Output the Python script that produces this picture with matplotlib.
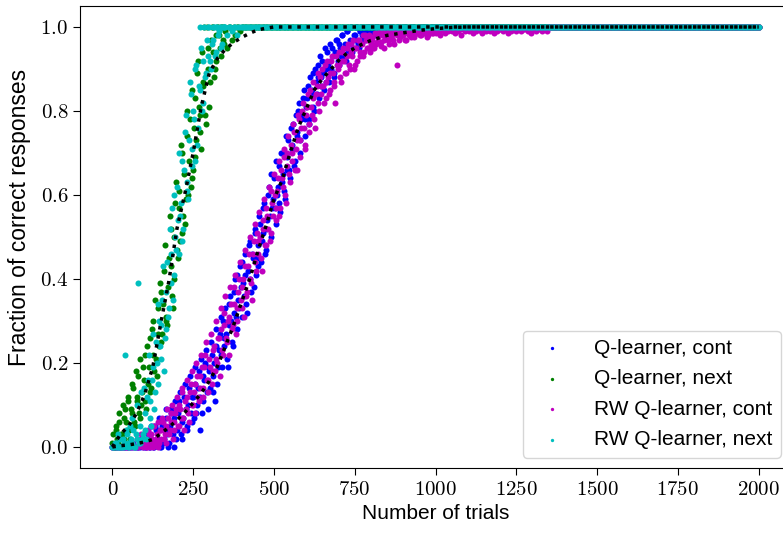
import numpy as np
import matplotlib
matplotlib.use("Agg")
import matplotlib.pyplot as plt
from matplotlib.ticker import FuncFormatter

plt.rcParams['font.family'] = ['Liberation Sans', 'DejaVu Sans']
plt.rcParams['mathtext.fontset'] = 'cm'

# ---------------- data ----------------
step = 5          # trial spacing of the scatter samples
n_trials = 2000   # last trial shown

# Q-learner, next (green) : trials 0,5,..,400
q_next = [0.01, 0.00, 0.04, 0.02, 0.06, 0.00, 0.03, 0.07, 0.09, 0.04,
          0.11, 0.02, 0.08, 0.14, 0.05, 0.12, 0.17, 0.07, 0.10, 0.19,
          0.22, 0.09, 0.15, 0.26, 0.14, 0.30, 0.18, 0.21, 0.33, 0.24,
          0.37, 0.27, 0.42, 0.31, 0.29, 0.45, 0.52, 0.36, 0.40, 0.58,
          0.47, 0.61, 0.49, 0.70, 0.55, 0.53, 0.74, 0.60, 0.78, 0.64,
          0.66, 0.83, 0.73, 0.92, 0.79, 0.71, 0.87, 1.00, 0.77, 0.95,
          0.81, 0.97, 1.00, 0.88, 0.92, 1.00, 0.98, 0.93, 1.00, 0.96,
          0.99, 0.95, 1.00, 1.00, 0.97, 1.00, 0.98, 1.00, 1.00, 0.99,
          1.00]
# Q-learner, next (green) : trials 2,7,..,347
q_next_b = [0.03, 0.00, 0.05, 0.01, 0.08, 0.03, 0.10, 0.02, 0.06, 0.12,
            0.04, 0.09, 0.15, 0.06, 0.18, 0.11, 0.08, 0.21, 0.13, 0.16,
            0.11, 0.24, 0.19, 0.13, 0.28, 0.22, 0.35, 0.17, 0.27, 0.39,
            0.25, 0.34, 0.48, 0.30, 0.38, 0.55, 0.43, 0.33, 0.50, 0.63,
            0.45, 0.57, 0.72, 0.51, 0.65, 0.59, 0.80, 0.68, 0.62, 0.85,
            0.76, 0.69, 0.89, 0.81, 0.75, 0.94, 0.86, 0.79, 1.00, 0.90,
            0.87, 1.00, 0.94, 0.90, 0.98, 1.00, 0.95, 1.00, 0.97, 1.00]

# RW Q-learner, next (cyan) : trials 0,5,..,400
rw_next = [0.00, 0.00, 0.01, 0.00, 0.00, 0.02, 0.00, 0.01, 0.22, 0.03,
           0.00, 0.05, 0.01, 0.04, 0.00, 0.02, 0.39, 0.01, 0.13, 0.03,
           0.08, 0.02, 0.16, 0.11, 0.05, 0.19, 0.09, 0.25, 0.15, 0.30,
           0.21, 0.35, 0.18, 0.28, 0.44, 0.33, 0.39, 0.57, 0.41, 0.50,
           0.62, 0.46, 0.55, 0.68, 0.52, 0.75, 0.63, 0.59, 0.87, 0.71,
           0.80, 0.68, 0.91, 0.76, 0.85, 0.95, 0.82, 1.00, 0.89, 0.93,
           1.00, 0.90, 0.97, 1.00, 0.94, 1.00, 0.99, 1.00, 0.96, 1.00,
           1.00, 0.98, 1.00, 1.00, 0.99, 1.00, 1.00, 0.98, 1.00, 1.00,
           1.00]
# RW Q-learner, next (cyan) : trials 2,7,..,347
rw_next_b = [0.00, 0.01, 0.00, 0.03, 0.00, 0.00, 0.02, 0.00, 0.04, 0.01,
             0.00, 0.02, 0.07, 0.00, 0.03, 0.10, 0.01, 0.05, 0.02, 0.14,
             0.04, 0.12, 0.22, 0.07, 0.16, 0.27, 0.13, 0.20, 0.34, 0.24,
             0.29, 0.43, 0.26, 0.37, 0.31, 0.52, 0.46, 0.35, 0.60, 0.47,
             0.54, 0.70, 0.58, 0.49, 0.66, 0.79, 0.61, 0.73, 0.84, 0.67,
             0.78, 0.90, 0.72, 0.86, 1.00, 0.80, 0.92, 0.88, 0.97, 1.00,
             0.92, 0.96, 1.00, 0.93, 1.00, 0.98, 1.00, 0.95, 1.00, 1.00]

# Q-learner, cont (blue) : trials 0,5,..,995
q_cont = [0.00, 0.00, 0.00, 0.00, 0.00, 0.00, 0.00, 0.00, 0.00, 0.00,
          0.00, 0.00, 0.00, 0.01, 0.00, 0.00, 0.00, 0.00, 0.02, 0.00,
          0.01, 0.00, 0.03, 0.00, 0.05, 0.01, 0.00, 0.04, 0.02, 0.07,
          0.00, 0.05, 0.02, 0.09, 0.03, 0.01, 0.08, 0.06, 0.00, 0.11,
          0.04, 0.09, 0.13, 0.02, 0.07, 0.15, 0.05, 0.10, 0.17, 0.06,
          0.12, 0.19, 0.08, 0.14, 0.04, 0.21, 0.11, 0.16, 0.23, 0.09,
          0.18, 0.25, 0.13, 0.20, 0.28, 0.15, 0.23, 0.31, 0.19, 0.26,
          0.33, 0.21, 0.29, 0.36, 0.25, 0.32, 0.40, 0.28, 0.35, 0.43,
          0.31, 0.39, 0.46, 0.34, 0.42, 0.49, 0.37, 0.45, 0.52, 0.41,
          0.48, 0.55, 0.44, 0.51, 0.58, 0.47, 0.54, 0.62, 0.50, 0.57,
          0.64, 0.53, 0.60, 0.67, 0.56, 0.63, 0.70, 0.59, 0.66, 0.73,
          0.64, 0.71, 0.77, 0.68, 0.74, 0.80, 0.70, 0.78, 0.83, 0.74,
          0.81, 0.86, 0.77, 0.84, 0.89, 0.80, 0.87, 0.91, 0.83, 0.88,
          0.92, 0.85, 0.90, 0.94, 0.87, 0.92, 0.95, 0.89, 0.94, 0.97,
          0.91, 0.95, 0.98, 0.93, 0.96, 0.99, 0.94, 0.97, 1.00, 0.95,
          0.98, 1.00, 0.96, 0.99, 1.00, 0.97, 0.99, 1.00, 0.98, 1.00,
          0.99, 1.00, 0.98, 1.00, 1.00, 0.99, 1.00, 0.99, 1.00, 1.00,
          1.00, 0.99, 1.00, 1.00, 1.00, 0.99, 1.00, 1.00, 1.00, 0.99,
          1.00, 1.00, 1.00, 0.99, 1.00, 1.00, 1.00, 1.00, 0.99, 1.00,
          1.00, 1.00, 1.00, 1.00, 1.00, 1.00, 0.99, 1.00, 1.00, 1.00]
# Q-learner, cont (blue) : trials 102,107,..,847
q_cont_b = [0.00, 0.02, 0.00, 0.03, 0.01, 0.00, 0.05, 0.02, 0.04, 0.00,
            0.06, 0.01, 0.04, 0.07, 0.00, 0.05, 0.09, 0.03, 0.07, 0.02,
            0.08, 0.11, 0.03, 0.06, 0.12, 0.09, 0.04, 0.14, 0.08, 0.12,
            0.07, 0.15, 0.10, 0.18, 0.12, 0.08, 0.17, 0.20, 0.13, 0.19,
            0.14, 0.22, 0.17, 0.11, 0.24, 0.19, 0.27, 0.22, 0.30, 0.24,
            0.27, 0.19, 0.34, 0.30, 0.24, 0.37, 0.31, 0.41, 0.33, 0.38,
            0.44, 0.36, 0.41, 0.32, 0.48, 0.40, 0.46, 0.38, 0.51, 0.45,
            0.43, 0.53, 0.49, 0.57, 0.46, 0.52, 0.60, 0.55, 0.65, 0.59,
            0.57, 0.68, 0.62, 0.58, 0.70, 0.65, 0.61, 0.74, 0.69, 0.66,
            0.76, 0.72, 0.67, 0.79, 0.75, 0.82, 0.73, 0.79, 0.85, 0.78,
            0.83, 0.78, 0.88, 0.85, 0.81, 0.90, 0.84, 0.88, 0.93, 0.86,
            0.89, 0.95, 0.87, 0.91, 0.96, 0.90, 0.93, 0.88, 0.97, 0.92,
            0.96, 0.93, 0.98, 0.95, 0.92, 0.99, 0.96, 1.00, 0.94, 0.98,
            0.97, 1.00, 0.95, 0.99, 0.98, 1.00, 0.97, 0.99, 1.00, 0.98,
            1.00, 0.99, 1.00, 0.98, 1.00, 0.99, 1.00, 1.00, 0.99, 1.00]

# RW Q-learner, cont (magenta) : trials 0,5,..,1345
rw_cont = [0.00, 0.00, 0.00, 0.00, 0.00, 0.00, 0.00, 0.00, 0.00, 0.00,
           0.00, 0.00, 0.01, 0.00, 0.00, 0.02, 0.00, 0.01, 0.03, 0.00,
           0.02, 0.00, 0.04, 0.01, 0.03, 0.00, 0.05, 0.02, 0.06, 0.01,
           0.04, 0.07, 0.02, 0.05, 0.09, 0.03, 0.06, 0.10, 0.04, 0.08,
           0.12, 0.05, 0.09, 0.14, 0.07, 0.11, 0.16, 0.08, 0.13, 0.18,
           0.10, 0.15, 0.20, 0.12, 0.17, 0.22, 0.14, 0.19, 0.25, 0.16,
           0.21, 0.27, 0.18, 0.24, 0.30, 0.20, 0.26, 0.33, 0.23, 0.29,
           0.36, 0.25, 0.31, 0.38, 0.28, 0.34, 0.41, 0.30, 0.37, 0.44,
           0.33, 0.40, 0.47, 0.36, 0.43, 0.50, 0.39, 0.46, 0.53, 0.42,
           0.49, 0.56, 0.45, 0.52, 0.59, 0.48, 0.55, 0.62, 0.51, 0.58,
           0.65, 0.54, 0.61, 0.68, 0.57, 0.64, 0.71, 0.60, 0.67, 0.74,
           0.63, 0.70, 0.77, 0.66, 0.73, 0.79, 0.69, 0.76, 0.82, 0.72,
           0.79, 0.84, 0.75, 0.81, 0.87, 0.78, 0.84, 0.89, 0.80, 0.86,
           0.90, 0.82, 0.87, 0.92, 0.84, 0.89, 0.93, 0.86, 0.82, 0.91,
           0.94, 0.88, 0.92, 0.95, 0.89, 0.93, 0.96, 0.90, 0.94, 0.97,
           0.91, 0.95, 0.97, 0.93, 0.96, 0.98, 0.94, 0.97, 0.95, 0.98,
           0.96, 0.975, 0.95, 0.985, 0.965, 0.98, 0.955, 0.99, 0.97, 0.985,
           0.975, 0.96, 0.99, 0.98, 0.97, 0.99, 0.91, 0.985, 0.975, 0.99,
           0.98, 0.99, 0.97, 0.985, 0.995, 0.975, 0.99, 0.98, 0.995, 0.985,
           0.99, 0.98, 0.995, 0.985, 0.99, 0.975, 0.995, 0.99, 0.985, 0.995,
           0.985, 0.995, 0.99, 0.98, 0.995, 0.99, 0.985, 0.995, 0.99, 0.995,
           0.99, 0.995, 0.985, 0.995, 0.99, 0.995, 0.98, 0.995, 0.99, 0.995,
           0.995, 0.99, 0.995, 0.985, 0.995, 0.99, 0.995, 0.995, 0.99, 0.985,
           0.995, 0.99, 0.995, 0.995, 0.99, 0.995, 0.985, 0.995, 0.99, 0.995,
           0.995, 0.995, 0.99, 0.995, 0.995, 0.985, 0.995, 0.99, 0.995, 0.995,
           0.99, 0.995, 0.995, 0.99, 0.995, 0.995, 0.995, 0.99, 0.995, 0.985,
           0.995, 0.995, 0.99, 0.995, 0.995, 0.995, 0.99, 0.995, 0.995, 0.99]
# RW Q-learner, cont (magenta) : trials 102,107,..,997
rw_cont_b = [0.01, 0.00, 0.03, 0.00, 0.02, 0.05, 0.01, 0.03, 0.00, 0.04,
             0.02, 0.06, 0.03, 0.01, 0.07, 0.04, 0.08, 0.02, 0.06, 0.09,
             0.05, 0.10, 0.07, 0.13, 0.04, 0.09, 0.12, 0.06, 0.15, 0.10,
             0.13, 0.08, 0.17, 0.11, 0.14, 0.19, 0.12, 0.22, 0.16, 0.13,
             0.19, 0.15, 0.23, 0.18, 0.21, 0.26, 0.17, 0.28, 0.22, 0.32,
             0.26, 0.30, 0.22, 0.34, 0.29, 0.38, 0.27, 0.33, 0.40, 0.35,
             0.38, 0.31, 0.43, 0.37, 0.46, 0.40, 0.35, 0.49, 0.44, 0.51,
             0.46, 0.50, 0.42, 0.54, 0.48, 0.57, 0.52, 0.49, 0.61, 0.55,
             0.60, 0.57, 0.64, 0.55, 0.66, 0.62, 0.69, 0.58, 0.70, 0.65,
             0.72, 0.68, 0.75, 0.71, 0.66, 0.78, 0.73, 0.80, 0.76, 0.71,
             0.81, 0.77, 0.85, 0.79, 0.83, 0.76, 0.86, 0.82, 0.88, 0.84,
             0.86, 0.91, 0.83, 0.88, 0.85, 0.92, 0.89, 0.87, 0.93, 0.90,
             0.91, 0.87, 0.94, 0.92, 0.89, 0.95, 0.91, 0.96, 0.93, 0.90,
             0.95, 0.92, 0.97, 0.94, 0.96, 0.93, 0.98, 0.95, 0.97, 0.94,
             0.97, 0.95, 0.985, 0.96, 0.975, 0.99, 0.965, 0.98, 0.95, 0.985,
             0.97, 0.99, 0.975, 0.985, 0.96, 0.99, 0.98, 0.97, 0.995, 0.98,
             0.985, 0.97, 0.99, 0.98, 0.995, 0.985, 0.975, 0.99, 0.985, 0.995,
             0.98, 0.99, 0.995, 0.985, 0.99, 0.98, 0.995, 0.99, 0.985, 0.99]

plateau_value = 1.0   # every series sits at 1.0 after its learning phase

# theoretical curves (black dotted)
curve_t = [0, 25, 50, 75, 100, 125, 150, 175, 200, 225, 250, 275, 300, 325,
           350, 375, 400, 425, 450, 475, 500, 525, 550, 575, 600, 625, 650,
           675, 700, 725, 750, 775, 800, 850, 900, 950, 1000, 1050, 1100,
           1500, 2000]
curve_next = [0.0, 0.03, 0.05, 0.08, 0.125, 0.19, 0.295, 0.395, 0.52, 0.605,
              0.70, 0.81, 0.89, 0.925, 0.947, 0.963, 0.975, 0.985, 0.993,
              0.997, 1.0, 1.0, 1.0, 1.0, 1.0, 1.0, 1.0, 1.0, 1.0, 1.0, 1.0,
              1.0, 1.0, 1.0, 1.0, 1.0, 1.0, 1.0, 1.0, 1.0, 1.0]
curve_cont = [0.0, 0.003, 0.005, 0.008, 0.012, 0.018, 0.032, 0.047, 0.064,
              0.083, 0.105, 0.128, 0.157, 0.192, 0.24, 0.29, 0.345, 0.40,
              0.465, 0.525, 0.59, 0.635, 0.70, 0.76, 0.805, 0.85, 0.877,
              0.898, 0.92, 0.937, 0.95, 0.96, 0.968, 0.98, 0.986, 0.992,
              0.996, 0.999, 1.0, 1.0, 1.0]

# (label, main samples, extra samples, first trial of extra samples, colour)
series = [
    ("Q-learner, cont", q_cont, q_cont_b, 102, "#0000ff"),
    ("Q-learner, next", q_next, q_next_b, 2, "#008000"),
    ("RW Q-learner, cont", rw_cont, rw_cont_b, 102, "#bf00bf"),
    ("RW Q-learner, next", rw_next, rw_next_b, 2, "#00bfbf"),
]

# ---------------- figure ----------------
fig = plt.figure(figsize=(7.83, 5.33), dpi=100)
# the right edge of the axes box lies just outside the saved picture
ax = fig.add_axes([0.1022, 0.122, 0.908, 0.8668])

for label, vals, extra, extra_start, col in series:
    vals = np.asarray(vals)
    extra = np.asarray(extra)
    x_main = np.arange(len(vals)) * step
    x_extra = extra_start + np.arange(len(extra)) * step
    x_tail = np.arange(len(vals) * step, n_trials + 1, step)
    x = np.concatenate([x_main, x_extra, x_tail])
    y = np.concatenate([vals, extra, np.full(len(x_tail), plateau_value)])
    ax.scatter(x, y, s=19, color=col, linewidths=0, label=label)

ax.plot(curve_t, curve_next, linestyle=':', color='black', lw=2.5)
ax.plot(curve_t, curve_cont, linestyle=':', color='black', lw=2.5)

ax.set_xlim(-100, 2100)
ax.set_ylim(-0.05, 1.05)
ax.set_xticks([0, 250, 500, 750, 1000, 1250, 1500, 1750, 2000])
ax.set_yticks([0.0, 0.2, 0.4, 0.6, 0.8, 1.0])
ax.xaxis.set_major_formatter(FuncFormatter(lambda v, p: r'$%d$' % int(round(v))))
ax.yaxis.set_major_formatter(FuncFormatter(lambda v, p: r'$%.1f$' % v))
ax.tick_params(labelsize=15, length=5)
ax.set_xlabel("Number of trials", fontsize=15)
ax.set_ylabel("Fraction of correct responses", fontsize=16.5)
ax.yaxis.set_label_coords(-0.0696, 0.543)

leg = ax.legend(loc='lower right', borderaxespad=0.5, fontsize=15,
                markerscale=0.55, handletextpad=1.0, labelspacing=0.55)

fig.savefig("out.png", dpi=100)
